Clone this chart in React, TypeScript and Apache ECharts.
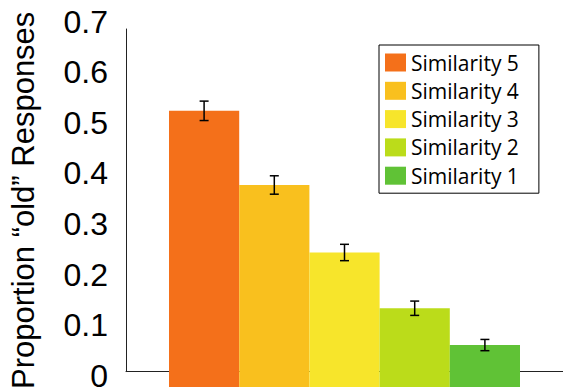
import React, { useEffect, useRef } from "react";
import * as echarts from "echarts";

const categories = ["Similarity 5", "Similarity 4", "Similarity 3", "Similarity 2", "Similarity 1"];
const means = [0.54, 0.395, 0.263, 0.154, 0.082];
const errors = [0.019, 0.018, 0.016, 0.014, 0.011];
const colors = ["#F4701A", "#F9C01E", "#F7E52B", "#BBDC1A", "#60C236"];
const yTicks = [0, 0.1, 0.2, 0.3, 0.4, 0.5, 0.6, 0.7];

export default function App() {
  const ref = useRef<HTMLDivElement>(null);
  useEffect(() => {
    if (!ref.current) return;
    const chart = echarts.init(ref.current, null, { renderer: "svg" });
    const barSeries = categories.map((name, i) => ({
      name,
      type: "bar",
      xAxisIndex: 1,
      yAxisIndex: 1,
      stack: "all",
      barWidth: "100%",
      itemStyle: { color: colors[i] },
      data: categories.map((_, j) => (j === i ? means[i] : "-")),
    }));
    const errData = categories.map((_, i) => [i, means[i] - errors[i], means[i] + errors[i]]);
    chart.setOption({
      animation: false,
      grid: [
        { left: 116, top: 29, right: 0, bottom: 5 },
        { left: 169, top: 29, width: 351, bottom: 5 },
        { left: 116, top: 21.5, right: 0, bottom: 12.5 },
      ],
      xAxis: [
        {
          gridIndex: 0,
          type: "value",
          min: 0,
          max: 1,
          axisLine: { show: true, onZero: false, lineStyle: { color: "#222", width: 1 } },
          axisTick: { show: false },
          axisLabel: { show: false },
          splitLine: { show: false },
        },
        {
          gridIndex: 1,
          type: "category",
          data: categories,
          show: false,
        },
        {
          gridIndex: 2,
          type: "value",
          show: false,
        },
      ],
      yAxis: [
        {
          gridIndex: 0,
          type: "value",
          min: 0,
          max: 0.7,
          interval: 0.1,
          name: "Proportion \u201cold\u201d Responses",
          nameLocation: "middle",
          nameGap: 87,
          nameTextStyle: {
            fontFamily: "Liberation Sans",
            fontSize: 31,
            color: "#000",
          },
          axisLine: { show: true, lineStyle: { color: "#222", width: 1 } },
          axisTick: { show: false },
          splitLine: { show: false },
          axisLabel: { show: false },
        },
        {
          gridIndex: 1,
          type: "value",
          min: 0,
          max: 0.7,
          interval: 0.1,
          show: false,
          splitLine: { show: false },
        },
        {
          gridIndex: 2,
          type: "value",
          min: 0,
          max: 0.7,
          interval: 0.1,
          axisLine: { show: false },
          axisTick: { show: false },
          splitLine: { show: false },
          axisLabel: {
            margin: 8,
            fontFamily: "Liberation Sans",
            fontSize: 32,
            lineHeight: 22,
            color: "#000",
            formatter: (v: number) => {
              const t = yTicks.find((x) => Math.abs(x - v) < 1e-9);
              if (t === undefined) return "";
              return t === 0 ? "0" : t.toFixed(1);
            },
          },
        },
      ],
      legend: {
        data: categories,
        orient: "vertical",
        left: 379,
        top: 45,
        itemWidth: 21,
        itemHeight: 18,
        itemGap: 7.3,
        icon: "rect",
        borderColor: "#000",
        borderWidth: 1,
        padding: [7, 20, 7, 6],
        textStyle: { fontFamily: "Open Sans", fontSize: 21, color: "#000" },
      },
      series: [
        ...barSeries,
        {
          type: "custom",
          xAxisIndex: 1,
          yAxisIndex: 1,
          data: errData,
          z: 10,
          renderItem: (params: any, api: any) => {
            const x = api.value(0);
            const lo = api.coord([x, api.value(1)]);
            const hi = api.coord([x, api.value(2)]);
            const hw = 4.5;
            const style = { stroke: "#000", lineWidth: 1.5 };
            return {
              type: "group",
              children: [
                { type: "line", shape: { x1: lo[0], y1: lo[1], x2: hi[0], y2: hi[1] }, style },
                { type: "line", shape: { x1: lo[0] - hw, y1: lo[1], x2: lo[0] + hw, y2: lo[1] }, style },
                { type: "line", shape: { x1: hi[0] - hw, y1: hi[1], x2: hi[0] + hw, y2: hi[1] }, style },
              ],
            };
          },
        },
      ],
    });
    return () => chart.dispose();
  }, []);
  return (
    <div
      ref={ref}
      style={{ position: "fixed", left: 0, top: 0, width: 563, height: 392, background: "#fff" }}
    />
  );
}
